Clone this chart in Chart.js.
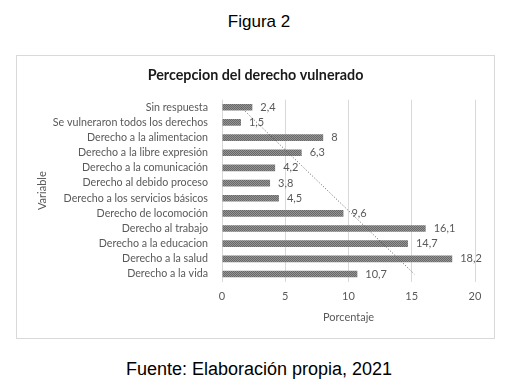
<!DOCTYPE html>
<html>
<head>
<meta charset="utf-8">
<script src="https://cdn.jsdelivr.net/npm/chart.js@4"></script>
<style>
  html, body { margin:0; padding:0; background:#fff; width:518px; height:389px; overflow:hidden; }
  .cap { position:absolute; left:0; width:518px; text-align:center; font-family:"Liberation Sans", Arial, sans-serif; font-size:18px; color:#000; }
  #box { position:absolute; left:16px; top:55px; width:477px; height:282px; border:1px solid #d9d9d9; }
  canvas { display:block; }
</style>
</head>
<body>
<div class="cap" style="top:12px;font-size:17px;">Figura 2</div>
<div id="box"><canvas id="c" width="477" height="282"></canvas></div>
<div class="cap" style="top:359px;">Fuente: Elaboración propia, 2021</div>
<script>
const categories = [
  "Sin respuesta",
  "Se vulneraron todos los derechos",
  "Derecho a la alimentacion",
  "Derecho a la libre expresión",
  "Derecho a la comunicación",
  "Derecho al debido proceso",
  "Derecho a los servicios básicos",
  "Derecho de locomoción",
  "Derecho al trabajo",
  "Derecho a la educacion",
  "Derecho a la salud",
  "Derecho a la vida"
];
const values = [2.4, 1.5, 8, 6.3, 4.2, 3.8, 4.5, 9.6, 16.1, 14.7, 18.2, 10.7];
// linear trend line, read at first and last category
const trendValues = [1.5, null, null, null, null, null, null, null, null, null, null, 15.2];
const xTicks = [0, 5, 10, 15, 20];

const FONT = "Lato, 'Open Sans', sans-serif";

function makePattern() {
  const p = document.createElement('canvas');
  p.width = 2; p.height = 2;
  const g = p.getContext('2d');
  g.fillStyle = '#686868'; g.fillRect(0,0,2,2);
  g.fillStyle = '#959595'; g.fillRect(0,0,1,1); g.fillRect(1,1,1,1);
  return document.getElementById('c').getContext('2d').createPattern(p, 'repeat');
}

const labelPlugin = {
  id: 'barLabels',
  afterDatasetsDraw(chart) {
    const ctx = chart.ctx;
    const meta = chart.getDatasetMeta(1);
    ctx.save();
    ctx.font = "11px " + FONT;
    ctx.fillStyle = '#595959';
    ctx.textAlign = 'left';
    ctx.textBaseline = 'middle';
    meta.data.forEach((el, i) => {
      ctx.fillText(String(values[i]).replace('.', ','), el.x + 8, el.y);
    });
    ctx.restore();
  }
};

new Chart(document.getElementById('c'), {
  type: 'bar',
  data: {
    labels: categories,
    datasets: [
      {
        type: 'line',
        data: trendValues,
        spanGaps: true,
        borderColor: '#595959',
        borderWidth: 1,
        borderDash: [1, 2],
        pointRadius: 0,
        fill: false,
        order: 0
      },
      {
        data: values,
        backgroundColor: makePattern(),
        borderWidth: 0,
        barPercentage: 0.44,
        categoryPercentage: 1,
        order: 1
      }
    ]
  },
  options: {
    indexAxis: 'y',
    responsive: false,
    animation: false,
    layout: { padding: { left: 19, right: 19, top: 0, bottom: 13.4 } },
    plugins: {
      legend: { display: false },
      tooltip: { enabled: false },
      title: {
        display: true,
        text: 'Percepcion del derecho vulnerado',
        color: '#1a1a1a',
        font: { family: FONT, size: 14.3, weight: 'bold' },
        padding: { top: 10.5, bottom: 16 }
      }
    },
    scales: {
      x: {
        type: 'linear',
        min: 0, max: 20,
        afterBuildTicks(s) { s.ticks = xTicks.map(v => ({ value: v })); },
        afterFit(s) { s.height = 43; },
        ticks: { color: '#595959', font: { family: FONT, size: 11 }, padding: 8 },
        grid: { color: '#d9d9d9', drawTicks: false },
        border: { display: false },
        title: {
          display: true, text: 'Porcentaje', color: '#595959',
          font: { family: FONT, size: 11 }, padding: { top: 6.8, bottom: 0.8 }
        }
      },
      y: {
        afterFit(s) { s.width = 186; },
        ticks: { color: '#595959', font: { family: FONT, size: 10.7 }, padding: 14, autoSkip: false },
        grid: { display: false, drawTicks: false },
        border: { display: false },
        title: {
          display: true, text: 'Variable', color: '#595959',
          font: { family: FONT, size: 11 }, padding: { top: 0, bottom: 0 }
        }
      }
    }
  },
  plugins: [labelPlugin]
});
</script>
</body>
</html>
